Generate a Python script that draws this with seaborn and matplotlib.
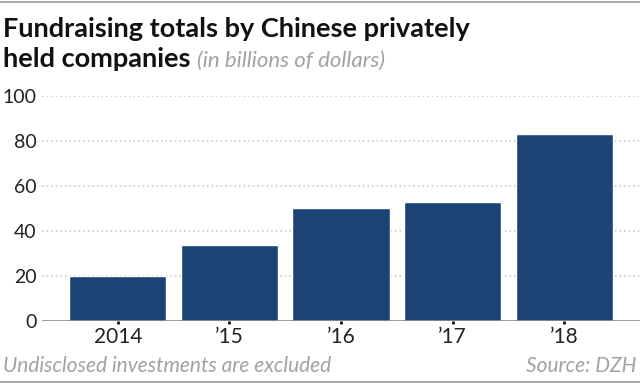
import matplotlib
matplotlib.use("Agg")
import matplotlib.pyplot as plt
import seaborn as sns
import pandas as pd

# --- Dados ---
YEARS = ["2014", "\u201915", "\u201916", "\u201917", "\u201918"]
TOTALS = [20.2, 34, 50, 53, 83]  # bilhões de dólares

TITLE_1 = "Fundraising totals by Chinese privately"
TITLE_2 = "held companies"
SUBTITLE = "(in billions of dollars)"
NOTE = "Undisclosed investments are excluded"
SOURCE = "Source: DZH"

BAR_COLOR = "#1b4474"
GRAY = "#a2a2a2"

sns.set_theme(style="white")
plt.rcParams["font.family"] = ["Lato", "DejaVu Sans"]

fig = plt.figure(figsize=(6.4, 3.83), dpi=100)
ax = fig.add_axes([42 / 640, 1 - 321 / 383, 1 - 42 / 640, 225 / 383])

df = pd.DataFrame({"year": YEARS, "total": TOTALS})
sns.barplot(data=df, x="year", y="total", color=BAR_COLOR, saturation=1,
            width=0.87, ax=ax, zorder=3)

ax.set_xlim(-0.68, 4.68)
ax.set_ylim(0, 100)
ax.set_yticks([0, 20, 40, 60, 80, 100])
ax.set_xlabel("")
ax.set_ylabel("")
for s in ax.spines.values():
    s.set_visible(False)
ax.axhline(0, color="#8c8c8c", lw=1.2, zorder=4)
for v in [20, 40, 60, 80, 100]:
    ax.axhline(v, color="#c4c4c4", lw=1.1, ls=(0, (1, 2)), zorder=1)

ax.tick_params(axis="y", length=0, pad=4, labelsize=14, labelcolor="#222222")
ax.tick_params(axis="x", length=2.5, width=2, color="#111111", direction="out",
               pad=1.5, labelsize=15, labelcolor="#222222", bottom=True)

# bordas de cima e de baixo
fig.add_artist(plt.Line2D([0, 1], [1 - 1.5 / 383, 1 - 1.5 / 383], color="#999999", lw=1.2))
fig.add_artist(plt.Line2D([0, 1], [1.5 / 383, 1.5 / 383], color="#999999", lw=1.2))

# título
fig.text(3 / 640, 1 - 37 / 383, TITLE_1, fontsize=19.5, fontweight="bold",
         color="#111111", va="baseline")
t2 = fig.text(3 / 640, 1 - 67 / 383, TITLE_2, fontsize=19.5, fontweight="bold",
              color="#111111", va="baseline")
fig.canvas.draw()
bb = t2.get_window_extent(fig.canvas.get_renderer())
fig.text(bb.x1 / 640 + 6 / 640, 1 - 67 / 383, SUBTITLE, fontsize=16,
         style="italic", color=GRAY, va="baseline")

# rodapé
fig.text(3 / 640, 1 - 372 / 383, NOTE, fontsize=15, style="italic",
         color=GRAY, va="baseline")
fig.text(637 / 640, 1 - 372 / 383, SOURCE, fontsize=15, style="italic",
         color=GRAY, va="baseline", ha="right")

fig.savefig("out.png", dpi=100)
